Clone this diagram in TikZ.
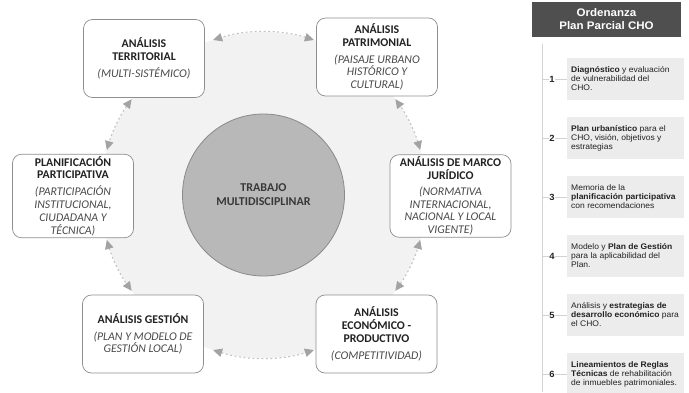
\documentclass[tikz,border=0pt]{standalone}
\usepackage{fontspec}
\setmainfont{Carlito}
\newfontfamily\panelfont[FakeStretch=1.05]{Liberation Sans}
\usetikzlibrary{arrows.meta,calc}

\definecolor{boxline}{HTML}{8E8E8E}
\definecolor{subtxt}{HTML}{4A4A4A}
\definecolor{titletxt}{HTML}{222222}
\definecolor{ringcol}{HTML}{C4C4C4}
\definecolor{tipcol}{HTML}{A3A3A3}
\definecolor{discfill}{HTML}{B8B8B8}
\definecolor{discline}{HTML}{8A8A8A}
\definecolor{halo}{HTML}{F2F2F2}
\definecolor{headfill}{HTML}{4F4F4F}
\definecolor{itemfill}{HTML}{ECECEC}
\definecolor{itemtxt}{HTML}{222222}
\definecolor{panelline}{HTML}{D2D2D2}

\newcommand\mytitle[1]{\textbf{#1}}
\newcommand\mysub[1]{{\itshape\color{subtxt}#1}}

\begin{document}
\begin{tikzpicture}[x=1pt,y=1pt,
  topic/.style={draw=boxline, line width=0.7pt, rounded corners=9pt, fill=white,
    minimum width=121pt, minimum height=78pt, align=center, inner sep=2pt,
    font=\fontsize{11.8}{12.8}\selectfont, text=titletxt},
  ring/.style={draw=ringcol, line width=1.1pt, dash pattern=on 2pt off 2.5pt,
    {Triangle[length=9pt,width=8.5pt,fill=tipcol,color=tipcol]}-{Triangle[length=9pt,width=8.5pt,fill=tipcol,color=tipcol]}},
  headbox/.style={fill=headfill, minimum width=149pt, minimum height=35pt, inner sep=0pt,
    text=white, align=center, font=\panelfont\bfseries\fontsize{11}{13.5}\selectfont},
  itembox/.style={fill=itemfill, minimum width=117pt, minimum height=42pt, inner sep=0pt},
  itemtext/.style={anchor=west, align=left, inner sep=0pt, text=itemtxt,
    font=\panelfont\fontsize{8.1}{9}\selectfont},
  itemnum/.style={inner sep=0pt, text=itemtxt, font=\panelfont\bfseries\fontsize{9}{10}\selectfont},
  tick/.style={draw=panelline, line width=0.6pt}
]
\useasboundingbox (0,0) rectangle (689,-392);

% light halo behind the ring
\fill[halo] (263.5,-195) circle (163);

% central disc
\node[circle, draw=discline, fill=discfill, line width=0.8pt, minimum size=162pt,
  align=center, text=titletxt!90!white, font=\bfseries\fontsize{12}{14}\selectfont] (C) at (263.5,-195)
  {TRABAJO\\MULTIDISCIPLINAR};

% ring arrows
\foreach \a/\b/\n in {72/108/1, 16/36/2, -36/-16/3, -108/-72/4, 144/164/5, 196/216/6}{
  \coordinate (r\n) at ($(C.center)+(\a:163)$);
  \draw[ring] (r\n) arc[start angle=\a, end angle=\b, radius=163];
}

% topic boxes
\node[topic] (T) at (144,-58.5)
  {\mytitle{ANÁLISIS}\\\mytitle{TERRITORIAL}\\[5pt]\mysub{(MULTI-SISTÉMICO)}};
\node[topic] (P) at (377,-57)
  {\mytitle{ANÁLISIS}\\\mytitle{PATRIMONIAL}\\[4pt]\mysub{(PAISAJE URBANO}\\\mysub{HISTÓRICO Y}\\\mysub{CULTURAL)}};
\node[topic] (PL) at (73,-196)
  {\mytitle{PLANIFICACIÓN}\\\mytitle{PARTICIPATIVA}\\[4pt]\mysub{(PARTICIPACIÓN}\\\mysub{INSTITUCIONAL,}\\\mysub{CIUDADANA Y}\\\mysub{TÉCNICA)}};
\node[topic] (J) at (450.5,-196)
  {\mytitle{ANÁLISIS DE MARCO}\\\mytitle{JURÍDICO}\\[3pt]\mysub{(NORMATIVA}\\\mysub{INTERNACIONAL,}\\\mysub{NACIONAL Y LOCAL}\\\mysub{VIGENTE)}};
\node[topic] (G) at (143,-334)
  {\mytitle{ANÁLISIS GESTIÓN}\\[4pt]\mysub{(PLAN Y MODELO DE}\\\mysub{GESTIÓN LOCAL)}};
\node[topic] (E) at (376.5,-334)
  {\mytitle{ANÁLISIS}\\\mytitle{ECONÓMICO -}\\\mytitle{PRODUCTIVO}\\[4pt]\mysub{(COMPETITIVIDAD)}};

% right panel
\node[headbox] (H) at (606.5,-19) {Ordenanza\\Plan Parcial CHO};
\coordinate (vtop) at (542,-44);
\coordinate (vbot) at (542,-392);
\draw[tick] (vtop) -- (vbot);

\foreach \k/\yy/\txt in {
  1/79/{\textbf{Diagnóstico} y evaluación\\de vulnerabilidad del\\CHO.},
  2/138/{\textbf{Plan urbanístico} para el\\CHO, visión, objetivos y\\estrategias},
  3/197/{Memoria de la\\\textbf{planificación participativa}\\con recomendaciones},
  4/256/{Modelo y \textbf{Plan de Gestión}\\para la aplicabilidad del\\Plan.},
  5/315/{Análisis y \textbf{estrategias de}\\\textbf{desarrollo económico} para\\el CHO.},
  6/374/{\textbf{Lineamientos de Reglas}\\\textbf{Técnicas} de rehabilitación\\de inmuebles patrimoniales.}}{
  \node[itembox] (b\k) at (625.5,-\yy) {};
  \node[itemnum] (n\k) at (552,-\yy) {\k};
  \coordinate (v\k) at (542,-\yy);
  \draw[tick] (v\k) -- (n\k.west);
  \draw[tick] (n\k.east) -- (b\k.west);
  \node[itemtext] (t\k) at (571,-\yy) {\txt};
}
\end{tikzpicture}
\end{document}
